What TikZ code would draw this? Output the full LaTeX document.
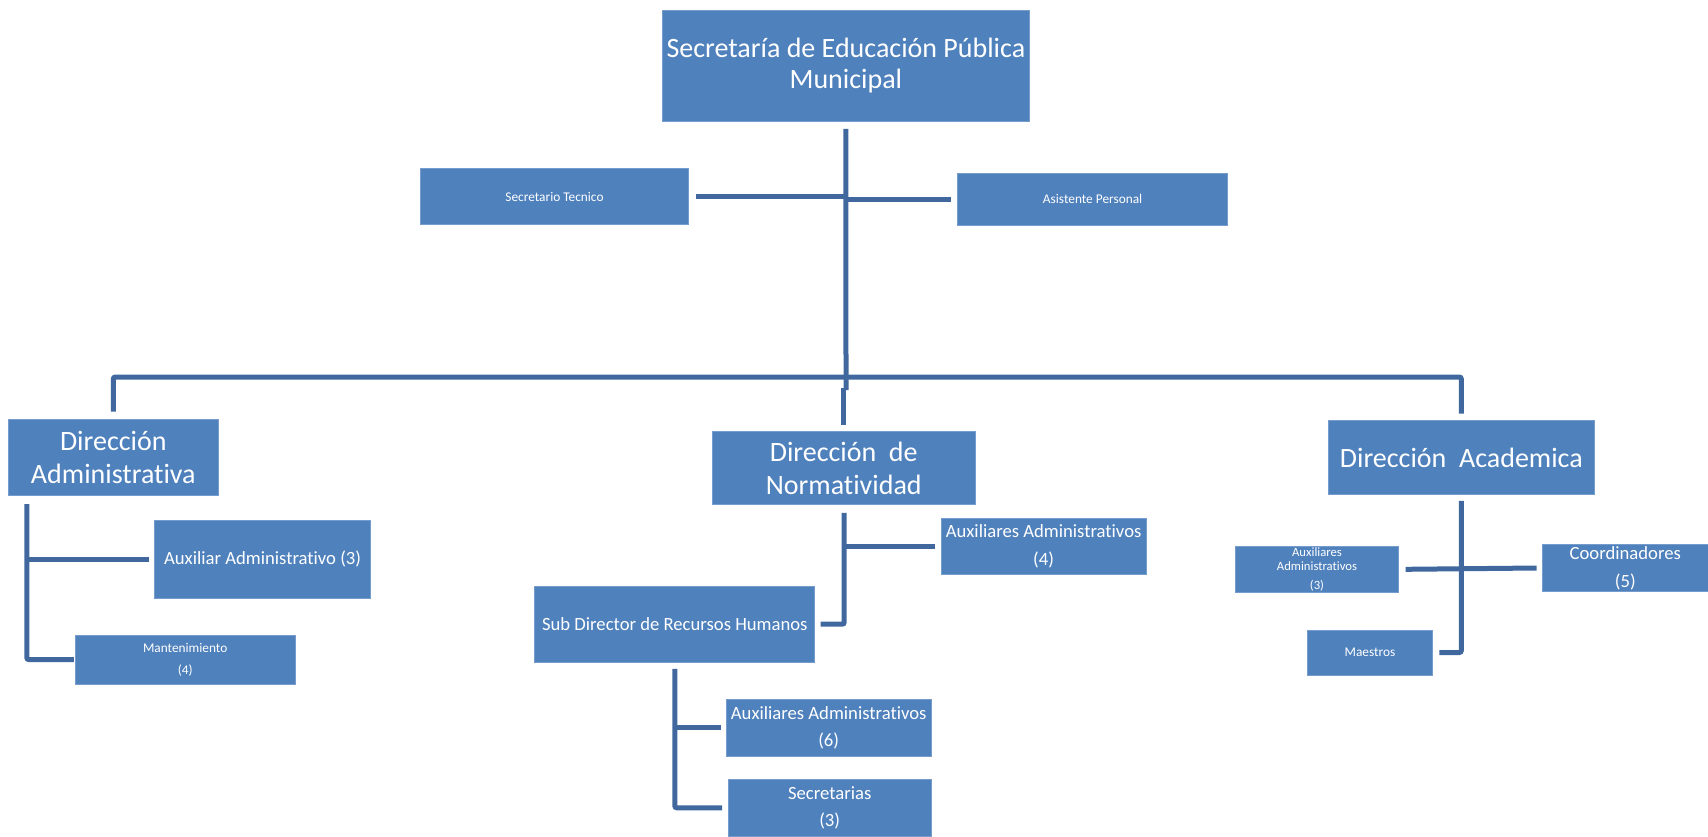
\documentclass[tikz,border=0pt]{standalone}
\usepackage{fontspec}
\setmainfont{Carlito}[Ligatures={NoCommon}]
\usetikzlibrary{calc}
\definecolor{boxblue}{RGB}{79,129,189}
\definecolor{boxedge}{RGB}{118,155,205}
\definecolor{linkblue}{RGB}{64,104,158}
\tikzset{
  orgbox/.style 2 args={rectangle, fill=boxblue, draw=boxedge, line width=0.6pt,
    inner sep=0pt, minimum width=#1*0.75pt, minimum height=#2*0.75pt,
    text=white, align=center},
  bigtxt/.style={font=\fontsize{21}{24.75}\selectfont},
  midtxt/.style={font=\fontsize{14}{20.5}\selectfont},
  smalltxt/.style={font=\fontsize{10}{16.3}\selectfont},
  conn/.style={draw=linkblue, line width=3.75pt, rounded corners=1.5pt},
}
\begin{document}
\begin{tikzpicture}[x=0.75pt,y=-0.75pt]
\useasboundingbox (0,0) rectangle (1708,836);

% boxes
\node[orgbox={367.1}{111.1}, font=\fontsize{21}{23.5}\selectfont] (top) at (845.9,65.5)
  {Secretaría de Educación Pública\\Municipal};
\node[orgbox={267.9}{55.6}, smalltxt] (sectec) at (554.5,196.6) {Secretario Tecnico};
\node[orgbox={270.1}{52.3}, smalltxt] (asist) at (1092.6,199.4) {Asistente Personal};

\node[orgbox={209.2}{76.2}, bigtxt] (dadm) at (113.3,457.5) {Dirección\\Administrativa};
\node[orgbox={262.5}{72.9}, bigtxt] (dnorm) at (843.7,467.9) {Dirección\ \ de\\Normatividad};
\node[orgbox={266.8}{74}, bigtxt] (dacad) at (1461.3,457.5) {Dirección\ \ Academica};

\node[orgbox={215.7}{77.3}, midtxt] (auxA) at (262.6,559.4) {Auxiliar Administrativo (3)};
\node[orgbox={220}{49.1}, smalltxt] (mant) at (185.2,659.6) {Mantenimiento\\(4)};

\node[orgbox={204.8}{55.5}, midtxt] (auxN) at (1043.6,546.3) {Auxiliares Administrativos\\(4)};
\node[orgbox={280}{76.3}, midtxt] (subdir) at (674.8,624.2) {Sub Director de Recursos Humanos};
\node[orgbox={205.4}{57.5}, midtxt] (auxS) at (828.7,727.8) {Auxiliares Administrativos\\(6)};
\node[orgbox={203.4}{56.5}, midtxt] (secr) at (829.7,807.8) {Secretarias\\(3)};

\node[orgbox={163.4}{46.6}, font=\fontsize{9.5}{10.8}\selectfont] (auxR) at (1317,569.3)
  {Auxiliares\\Administrativos\\[3.5pt](3)};
\node[orgbox={165.5}{47}, font=\fontsize{14}{21}\selectfont] (coord) at (1625.3,568) {Coordinadores\\(5)};
\node[orgbox={125.3}{45}, smalltxt] (maes) at (1369.9,652.5) {Maestros};

% junction points
\coordinate (trunk) at (846,390);
\coordinate (bus) at (846,377);

% top level
\draw[conn] ($(top.south)+(0,7.5)$) -- (trunk);
\draw[conn] ($(sectec.east)+(7,0)$) -- (sectec.east -| trunk);
\draw[conn] (asist.west -| trunk) -- ($(asist.west)+(-6.5,0)$);
\draw[conn] ($(dadm.north)+(0,-7.5)$) |- (bus) -| ($(dacad.north)+(0,-6.5)$);
\draw[conn] ($(dnorm.north)+(0,-6.5)$) -- ($(dnorm.north)+(0,-43)$);

% Dirección Administrativa
\coordinate (la) at ($(dadm.south west)+(18.5,8)$);
\draw[conn] (la) |- ($(mant.west)+(-1,0)$);
\draw[conn] (la |- auxA.west) -- ($(auxA.west)+(-5.5,0)$);

% Dirección de Normatividad
\coordinate (ma) at ($(dnorm.south)+(0.5,8)$);
\draw[conn] (ma) |- ($(subdir.east)+(5.5,0)$);
\draw[conn] (ma |- auxN.west) -- ($(auxN.west)+(-5.5,0)$);
\draw[conn] ($(subdir.south)+(0,6)$) |- ($(secr.west)+(-5.5,0)$);
\draw[conn] (subdir.south |- auxS.west) -- ($(auxS.west)+(-5,0)$);

% Dirección Academica
\draw[conn] ($(dacad.south)+(0,6)$) |- ($(maes.east)+(6.5,0)$);
\draw[conn] ($(auxR.east)+(6.5,0)$) -- ($(coord.west)+(-5.5,0)$);
\end{tikzpicture}
\end{document}
